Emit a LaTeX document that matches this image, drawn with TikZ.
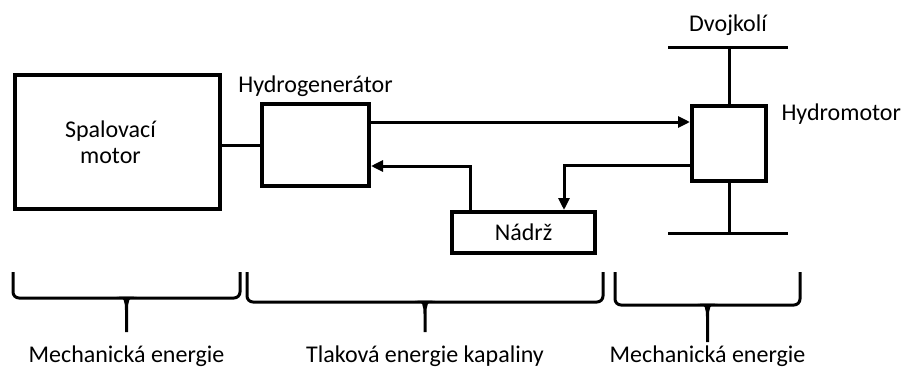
\documentclass[tikz,border=0pt]{standalone}
\usepackage{fontspec}
\setmainfont{Carlito}
\usetikzlibrary{arrows.meta,positioning}

\begin{document}
\begin{tikzpicture}[
			x=1pt,y=-1pt,
			font=\fontsize{24}{26}\selectfont,
			block/.style={rectangle,draw,line width=4pt,inner sep=0pt},
			link/.style={line width=3pt},
			flow/.style={line width=3pt,-{Triangle[length=12pt,width=11pt]}},
			energybrace/.style={line width=3pt,rounded corners=6pt},
			]
			\useasboundingbox (0,0) rectangle (902,367);
			\node [block,minimum width=205pt,minimum height=134pt,align=center,text width=190pt] (motor) at (117.5,142) {\hspace*{-14pt}Spalovací\\ \hspace*{-14pt}motor};
			\node [block,minimum width=107pt,minimum height=82pt] (hydrogen) at (315.5,145) {};
			\node [above=2pt of hydrogen] (hglabel) {Hydrogenerátor};
			\node [block,minimum width=74pt,minimum height=75pt] (hydromotor) at (729,143.5) {};
			\node [anchor=base west] (hmlabel) at (778,120) {Hydromotor};
			\node [block,minimum width=143pt,minimum height=41pt] (tank) at (523.5,232.5) {Nádrž};
			\coordinate (axletop) at (728,47);
			\coordinate (axlebottom) at (728,233);
			\node [anchor=base] (wheelset) at (728,31) {Dvojkolí};
			% shaft and wheelset
			\draw[link] (hydromotor.north) -- (hydromotor.north |- axletop);
			\draw[link] (hydromotor.south) -- (hydromotor.south |- axlebottom);
			\draw[link] ([xshift=-60pt]axletop) -- ([xshift=60pt]axletop);
			\draw[link] ([xshift=-60pt]axlebottom) -- ([xshift=60pt]axlebottom);
			% fluid circuit
			\draw[link] (motor.east |- hydrogen.west) -- (hydrogen.west);
			\coordinate (pressure) at ([yshift=23pt]hydrogen.east);
			\coordinate (return) at ([yshift=-21.5pt]hydromotor.west);
			\draw[flow] (pressure) -- (pressure -| hydromotor.west);
			\draw[flow] (return) -| ([xshift=40.5pt]tank.north);
			\draw[flow] ([xshift=-53.5pt]tank.north) |- ([yshift=-21pt]hydrogen.east);
			% energy braces
			\foreach \xa/\xb/\ymid/\ytip/\txt [count=\i] in {13/240/298/332/Mechanická energie, 247/603/302/332/Tlaková energie kapaliny, 615/800/305/342/Mechanická energie} {
				\pgfmathsetmacro{\xm}{(\xa+\xb)/2}
				\draw[energybrace] (\xa,272) -- (\xa,\ymid) -- (\xb,\ymid) -- (\xb,272);
				\fill (\xm-10,\ymid-1.5) .. controls (\xm-2,\ymid-1.5) and (\xm-1.5,\ymid+4) .. (\xm-1.5,\ymid+12) -- (\xm-1.5,\ytip) -- (\xm+1.5,\ytip) -- (\xm+1.5,\ymid+12) .. controls (\xm+1.5,\ymid+4) and (\xm+2,\ymid-1.5) .. (\xm+10,\ymid-1.5) -- cycle;
				\node [anchor=base] (energy\i) at (\xm,362) {\txt};
			}
		\end{tikzpicture}
\end{document}
